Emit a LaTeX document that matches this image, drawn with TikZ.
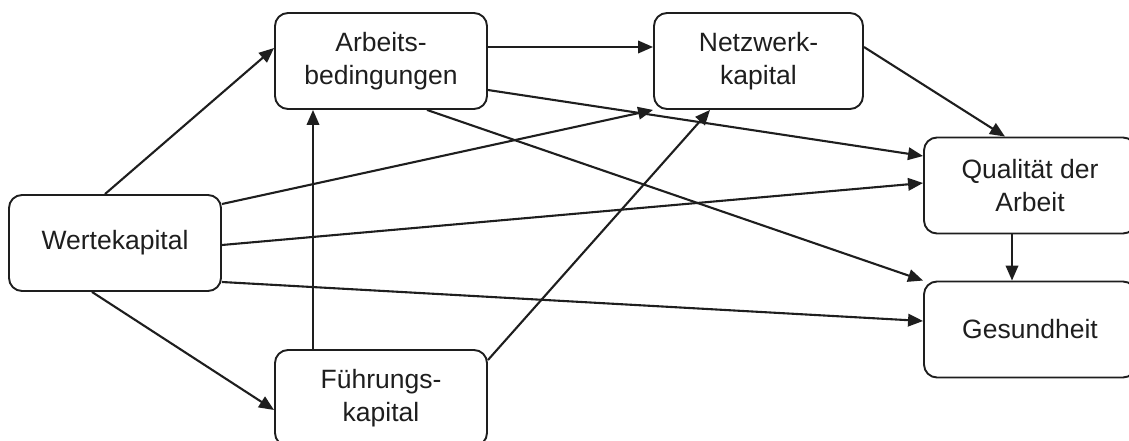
\documentclass[tikz,border=0pt]{standalone}
\usepackage{fontspec}
\setmainfont{Liberation Sans}
\usetikzlibrary{arrows.meta}
\definecolor{ink}{HTML}{1E1E1E}
\begin{document}
\begin{tikzpicture}[x=1pt,y=-1pt,
  box/.style={draw=ink,line width=1.9pt,rounded corners=13pt,minimum width=212pt,minimum height=96pt,inner sep=0pt,align=center,text=ink,font=\fontsize{26.5}{33.5}\selectfont},
  conn/.style={draw=ink,line width=2.1pt,-{Triangle[length=15pt,width=12.5pt]}}]
\useasboundingbox (0,0) rectangle (1129,441);
\clip (0,0) rectangle (1129,441);
\node[box] (W) at (115,243) {Wertekapital};
\node[box] (A) at (381,61) {Arbeits-\\bedingungen};
\node[box,minimum width=209pt] (N) at (758.5,61) {Netzwerk-\\kapital};
\node[box] (Q) at (1030,185.5) {Qualität der\\Arbeit};
\node[box] (G) at (1030,329.5) {Gesundheit};
\node[box] (F) at (381,398) {Führungs-\\kapital};
\draw[conn] ([xshift=-10pt]W.north) -- ([yshift=13pt]A.west);
\draw[conn] ([xshift=-23pt]W.south) -- ([yshift=-12pt]F.west);
\draw[conn] ([yshift=39pt]W.east) -- (N.south west);
\draw[conn] ([yshift=-2pt]W.east) -- ([yshift=2.5pt]Q.west);
\draw[conn] ([yshift=-39pt]W.east) -- ([yshift=8.5pt]G.west);
\draw[conn] ([yshift=14pt]A.east) -- ([yshift=14pt]N.west);
\draw[conn] ([yshift=-29pt]A.east) -- ([yshift=29.5pt]Q.west);
\draw[conn] ([xshift=46pt]A.south) -- (G.north west);
\draw[conn] ([xshift=-68pt]F.north) -- ([xshift=-68pt]A.south);
\draw[conn] ([yshift=38pt]F.east) -- ([xshift=-48.5pt]N.south);
\draw[conn] ([yshift=14pt]N.east) -- ([xshift=-25pt]Q.north);
\draw[conn] ([xshift=-18pt]Q.south) -- ([xshift=-18pt]G.north);
\end{tikzpicture}
\end{document}
